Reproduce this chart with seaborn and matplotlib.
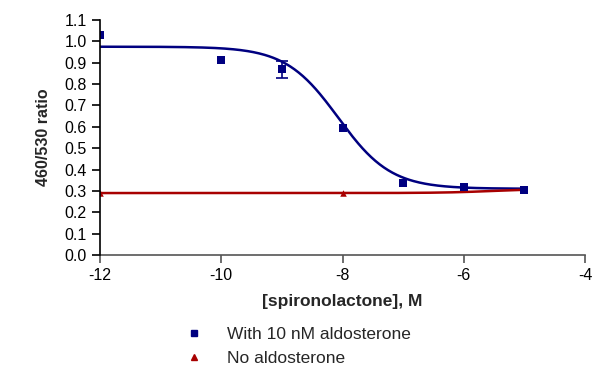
import numpy as np
import pandas as pd
import matplotlib
matplotlib.use("Agg")
import matplotlib.pyplot as plt
import seaborn as sns
from matplotlib.lines import Line2D

# ---- data ----
log_conc_aldo = [-12, -10, -9, -8, -7, -6, -5]
ratio_aldo = [1.03, 0.915, 0.87, 0.595, 0.335, 0.32, 0.305]
err_aldo = [0.0, 0.0, 0.04, 0.0, 0.0, 0.0, 0.0]

log_conc_none = [-12, -8, -5]
ratio_none = [0.29, 0.29, 0.305]

# fitted sigmoid parameters (top, bottom, logIC50, hill)
fit_aldo = dict(top=0.975, bottom=0.31, logec=-8.07, hill=1.0)
fit_none = dict(top=0.29, bottom=0.31, logec=-5.5, hill=1.0)

x_ticks = [-12, -10, -8, -6, -4]
y_ticks = [round(0.1 * i, 1) for i in range(12)]

series_names = ["With 10 nM aldosterone", "No aldosterone"]
colors = ["#000080", "#A80000"]
xlabel = "[spironolactone], M"
ylabel = "460/530 ratio"


def sigmoid(x, top, bottom, logec, hill):
    return bottom + (top - bottom) / (1 + 10 ** ((x - logec) * hill))


sns.set_style("ticks")
plt.rcParams["font.family"] = ["Liberation Sans", "DejaVu Sans"]

fig = plt.figure(figsize=(5.92, 3.75), dpi=100)
ax = fig.add_axes([100 / 592, 1 - 255 / 375, 485 / 592, 235 / 375])

xs = np.linspace(-12, -5, 300)
curve = pd.concat([
    pd.DataFrame({"x": xs, "y": sigmoid(xs, **fit_aldo), "s": series_names[0]}),
    pd.DataFrame({"x": xs, "y": sigmoid(xs, **fit_none), "s": series_names[1]}),
])
sns.lineplot(data=curve, x="x", y="y", hue="s", palette=colors, ax=ax,
             legend=False, linewidth=1.8, zorder=2)

pts_none = pd.DataFrame({"x": log_conc_none, "y": ratio_none})
sns.scatterplot(data=pts_none, x="x", y="y", marker="^", color=colors[1],
                s=22, linewidth=0, ax=ax, zorder=3)

pts_aldo = pd.DataFrame({"x": log_conc_aldo, "y": ratio_aldo, "e": err_aldo})
with_err = pts_aldo[pts_aldo["e"] > 0]
ax.errorbar(with_err["x"], with_err["y"], yerr=with_err["e"], fmt="none",
            ecolor=colors[0], elinewidth=1.2, capsize=4, capthick=1.2, zorder=3)
sns.scatterplot(data=pts_aldo, x="x", y="y", marker="s", color=colors[0],
                s=32, linewidth=0, ax=ax, zorder=4)

ax.set_xlim(-12, -4)
ax.set_ylim(0, 1.1)
ax.set_xticks(x_ticks)
ax.set_xticklabels([str(t) for t in x_ticks])
ax.set_yticks(y_ticks)
ax.set_yticklabels([f"{t:.1f}" for t in y_ticks])
ax.tick_params(axis="both", direction="out", length=6, width=1.2,
               labelsize=11.5, colors="black")
ax.tick_params(axis="x", color="#555555")
for side in ["top", "right"]:
    ax.spines[side].set_visible(False)
ax.spines["left"].set_color("black")
ax.spines["left"].set_linewidth(1.2)
ax.spines["bottom"].set_color("#555555")
ax.spines["bottom"].set_linewidth(1.2)
ax.spines["left"].set_zorder(5)

ax.set_xlabel(xlabel, fontsize=12.5, fontweight="bold", labelpad=8)
ax.set_ylabel(ylabel, fontsize=11.5, fontweight="bold", labelpad=10)

handles = [
    Line2D([], [], marker="s", color=colors[0], linestyle="none", markersize=4),
    Line2D([], [], marker="^", color=colors[1], linestyle="none", markersize=4),
]
fig.legend(handles, series_names, loc="upper left",
           bbox_to_anchor=(170 / 592, 1 - 320 / 375), frameon=False,
           fontsize=12.5, handletextpad=0.9, labelspacing=0.5,
           borderaxespad=0)

fig.savefig("out.png", dpi=100)
